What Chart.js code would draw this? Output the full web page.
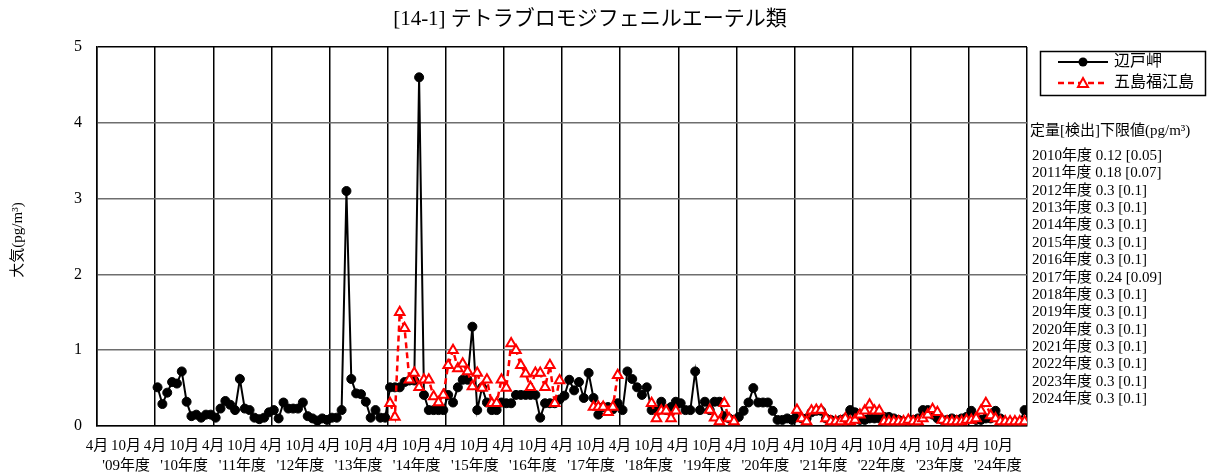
<!DOCTYPE html>
<html>
<head>
<meta charset="utf-8">
<script src="https://cdn.jsdelivr.net/npm/chart.js@4/dist/chart.umd.min.js"></script>
<style>
  html, body { margin: 0; padding: 0; background: #fff; }
  #wrap { width: 1207px; height: 474px; }
</style>
</head>
<body>
<div id="wrap"><canvas id="c" width="1207" height="474"></canvas></div>
<script>
// 月別データ（4月始まりの年度、'09年度〜'24年度、12か月ずつ）
const fiscalYears = ["09", "10", "11", "12", "13", "14", "15", "16", "17", "18", "19", "20", "21", "22", "23", "24"];
const monthTicks = ["4月", "10月"];

// 辺戸岬
const hedo = [
  null, null, null, null, null, null, null, null, null, null, null, null, // '09
  0.51, 0.29, 0.44, 0.58, 0.56, 0.72, 0.32, 0.13, 0.15, 0.11, 0.15, 0.15, // '10
  0.11, 0.23, 0.33, 0.28, 0.21, 0.62, 0.23, 0.21, 0.11, 0.09, 0.11, 0.18, // '11
  0.21, 0.10, 0.31, 0.23, 0.23, 0.23, 0.31, 0.13, 0.10, 0.07, 0.10, 0.08, // '12
  0.11, 0.11, 0.21, 3.10, 0.62, 0.43, 0.42, 0.32, 0.11, 0.21, 0.11, 0.11, // '13
  0.51, 0.51, 0.51, 0.58, 0.60, 0.60, 4.60, 0.41, 0.21, 0.21, 0.21, 0.21, // '14
  0.41, 0.31, 0.51, 0.61, 0.61, 1.31, 0.21, 0.51, 0.31, 0.21, 0.21, 0.31, // '15
  0.30, 0.30, 0.41, 0.41, 0.41, 0.41, 0.41, 0.11, 0.30, 0.30, 0.30, 0.35, // '16
  0.40, 0.61, 0.47, 0.58, 0.37, 0.70, 0.37, 0.15, 0.25, 0.25, 0.22, 0.30, // '17
  0.21, 0.72, 0.62, 0.51, 0.41, 0.51, 0.21, 0.21, 0.32, 0.21, 0.25, 0.32, // '18
  0.30, 0.21, 0.21, 0.72, 0.21, 0.32, 0.21, 0.32, 0.32, 0.13, 0.10, 0.08, // '19
  0.12, 0.20, 0.31, 0.50, 0.31, 0.31, 0.31, 0.20, 0.08, 0.08, 0.10, 0.08, // '20
  0.15, 0.10, 0.10, 0.18, 0.20, 0.20, 0.10, 0.08, 0.05, 0.08, 0.10, 0.21, // '21
  0.18, 0.08, 0.08, 0.10, 0.10, 0.10, 0.12, 0.12, 0.10, 0.08, 0.06, 0.06, // '22
  0.08, 0.10, 0.21, 0.21, 0.15, 0.10, 0.08, 0.08, 0.10, 0.08, 0.10, 0.12, // '23
  0.20, 0.08, 0.08, 0.10, 0.10, 0.20, 0.10, 0.05, 0.05, 0.05, 0.05, 0.21  // '24
];

// 五島福江島
const goto = [
  null, null, null, null, null, null, null, null, null, null, null, null, // '09
  null, null, null, null, null, null, null, null, null, null, null, null, // '10
  null, null, null, null, null, null, null, null, null, null, null, null, // '11
  null, null, null, null, null, null, null, null, null, null, null, null, // '12
  null, null, null, null, null, null, null, null, null, null, null, null, // '13
  0.30, 0.12, 1.50, 1.29, 0.61, 0.70, 0.51, 0.61, 0.61, 0.39, 0.31, 0.41, // '14
  0.80, 1.00, 0.76, 0.82, 0.72, 0.52, 0.70, 0.50, 0.61, 0.30, 0.30, 0.61, // '15
  0.50, 1.09, 1.00, 0.80, 0.69, 0.51, 0.70, 0.70, 0.51, 0.80, 0.30, 0.60, // '16
  null, null, null, null, null, null, 0.25, 0.25, 0.25, 0.18, 0.25, 0.67, // '17
  null, null, null, null, null, null, 0.30, 0.10, 0.20, 0.20, 0.10, 0.20, // '18
  null, null, null, null, null, null, 0.21, 0.11, 0.06, 0.30, 0.10, 0.06, // '19
  null, null, null, null, null, null, null, null, null, null, null, null, // '20
  0.21, 0.10, 0.06, 0.20, 0.21, 0.21, 0.10, 0.06, 0.06, 0.06, 0.10, 0.06, // '21
  0.08, 0.15, 0.20, 0.28, 0.20, 0.20, 0.06, 0.06, 0.06, 0.06, 0.06, 0.08, // '22
  0.06, 0.06, 0.10, 0.15, 0.22, 0.18, 0.08, 0.06, 0.06, 0.06, 0.06, 0.08, // '23
  0.08, 0.10, 0.20, 0.30, 0.14, 0.10, 0.06, 0.06, 0.06, 0.06, 0.06, 0.06  // '24
];

const seriesNames = ["辺戸岬", "五島福江島"];
const yTicks = [0, 1, 2, 3, 4, 5];
const chartTitle = "[14-1] テトラブロモジフェニルエーテル類";
const yTitle = "大気(pg/m³)";
const limitHeader = "定量[検出]下限値(pg/m³)";
const limitNotes = [
  "2010年度 0.12 [0.05]",
  "2011年度 0.18 [0.07]",
  "2012年度 0.3 [0.1]",
  "2013年度 0.3 [0.1]",
  "2014年度 0.3 [0.1]",
  "2015年度 0.3 [0.1]",
  "2016年度 0.3 [0.1]",
  "2017年度 0.24 [0.09]",
  "2018年度 0.3 [0.1]",
  "2019年度 0.3 [0.1]",
  "2020年度 0.3 [0.1]",
  "2021年度 0.3 [0.1]",
  "2022年度 0.3 [0.1]",
  "2023年度 0.3 [0.1]",
  "2024年度 0.3 [0.1]"
];

const FONT = '"Liberation Serif", "Times New Roman", "Noto Sans CJK JP", serif';
const RED = "#ff0000";
const nMonths = fiscalYears.length * 12;

const toPoints = (arr) => arr.map((v, i) => ({ x: i + 0.5, y: v }));

// タイトル・凡例・注記（キャンバスに直接描く）
const decorations = {
  id: "decorations",
  afterDraw(chart) {
    const ctx = chart.ctx;
    ctx.save();
    ctx.fillStyle = "#000";
    ctx.textBaseline = "middle";

    // タイトル
    ctx.font = "21px " + FONT;
    ctx.textAlign = "center";
    ctx.fillText(chartTitle, 590, 19);

    // 縦軸タイトル
    ctx.save();
    ctx.translate(18, 240);
    ctx.rotate(-Math.PI / 2);
    ctx.font = "15px " + FONT;
    ctx.fillText(yTitle, 0, 0);
    ctx.restore();

    // 凡例
    ctx.lineWidth = 1.5;
    ctx.strokeStyle = "#000";
    ctx.strokeRect(1040.5, 51.5, 165, 44);
    ctx.font = "16px " + FONT;
    ctx.textAlign = "left";
    // 辺戸岬
    ctx.lineWidth = 2;
    ctx.beginPath();
    ctx.moveTo(1058, 62);
    ctx.lineTo(1108, 62);
    ctx.stroke();
    ctx.beginPath();
    ctx.arc(1083, 62, 4.5, 0, Math.PI * 2);
    ctx.fillStyle = "#000";
    ctx.fill();
    ctx.fillText(seriesNames[0], 1114, 62);
    // 五島福江島
    ctx.strokeStyle = RED;
    ctx.lineWidth = 2.5;
    ctx.setLineDash([6, 4]);
    ctx.beginPath();
    ctx.moveTo(1058, 83);
    ctx.lineTo(1108, 83);
    ctx.stroke();
    ctx.setLineDash([]);
    ctx.lineWidth = 2;
    ctx.beginPath();
    ctx.moveTo(1083, 78);
    ctx.lineTo(1088, 87);
    ctx.lineTo(1078, 87);
    ctx.closePath();
    ctx.fillStyle = "#fff";
    ctx.fill();
    ctx.stroke();
    ctx.fillStyle = "#000";
    ctx.fillText(seriesNames[1], 1114, 83);

    // 定量下限値
    ctx.font = "15px " + FONT;
    ctx.fillText(limitHeader, 1030, 131);
    limitNotes.forEach((t, i) => {
      ctx.fillText(t, 1032, 156 + i * 17.38);
    });
    ctx.restore();
  }
};

new Chart(document.getElementById("c"), {
  type: "line",
  data: {
    datasets: [
      {
        label: seriesNames[0],
        data: toPoints(hedo),
        borderColor: "#000",
        backgroundColor: "#000",
        borderWidth: 2,
        pointStyle: "circle",
        pointRadius: 4.5,
        pointBorderWidth: 1,
        pointBackgroundColor: "#000",
        tension: 0,
        order: 1
      },
      {
        label: seriesNames[1],
        data: toPoints(goto),
        borderColor: RED,
        backgroundColor: "#fff",
        borderWidth: 2.5,
        borderDash: [6, 4],
        pointStyle: "triangle",
        pointRadius: 5.5,
        pointBorderWidth: 2,
        pointBackgroundColor: "#fff",
        pointBorderColor: RED,
        tension: 0,
        order: 0
      }
    ]
  },
  options: {
    responsive: false,
    animation: false,
    devicePixelRatio: 1,
    spanGaps: false,
    layout: { padding: { left: 0, right: 180, top: 47, bottom: 0 } },
    plugins: {
      legend: { display: false },
      title: { display: false },
      tooltip: { enabled: false }
    },
    scales: {
      x: {
        type: "linear",
        min: 0,
        max: nMonths,
        afterBuildTicks(axis) {
          const ticks = [];
          for (let v = 0; v <= nMonths; v += 6) ticks.push({ value: v });
          axis.ticks = ticks;
        },
        afterFit(axis) { axis.height = 48; },
        border: { display: true, color: "#000", width: 1.5 },
        grid: {
          drawTicks: false,
          lineWidth: 1.5,
          color: (c) => (c.tick && c.tick.value % 12 === 0 ? "#000" : "rgba(0,0,0,0)")
        },
        ticks: {
          autoSkip: false,
          maxRotation: 0,
          padding: 10,
          color: "#000",
          font: { family: FONT, size: 15, lineHeight: 1.35 },
          callback(v) {
            if (v >= nMonths) return "";
            if (v % 12 === 0) return [monthTicks[0], ""];
            return [monthTicks[1], "'" + fiscalYears[(v - 6) / 12] + "年度"];
          }
        }
      },
      y: {
        min: 0,
        max: 5,
        afterBuildTicks(axis) { axis.ticks = yTicks.map((v) => ({ value: v })); },
        afterFit(axis) { axis.width = 97; },
        border: { display: true, color: "#000", width: 1.5 },
        grid: {
          drawTicks: false,
          lineWidth: 1.5,
          color: (c) => (c.tick && c.tick.value === 5 ? "#000" : "#6e6e6e")
        },
        ticks: {
          padding: 15,
          color: "#000",
          font: { family: FONT, size: 16 }
        }
      }
    }
  },
  plugins: [decorations]
});
</script>
</body>
</html>
